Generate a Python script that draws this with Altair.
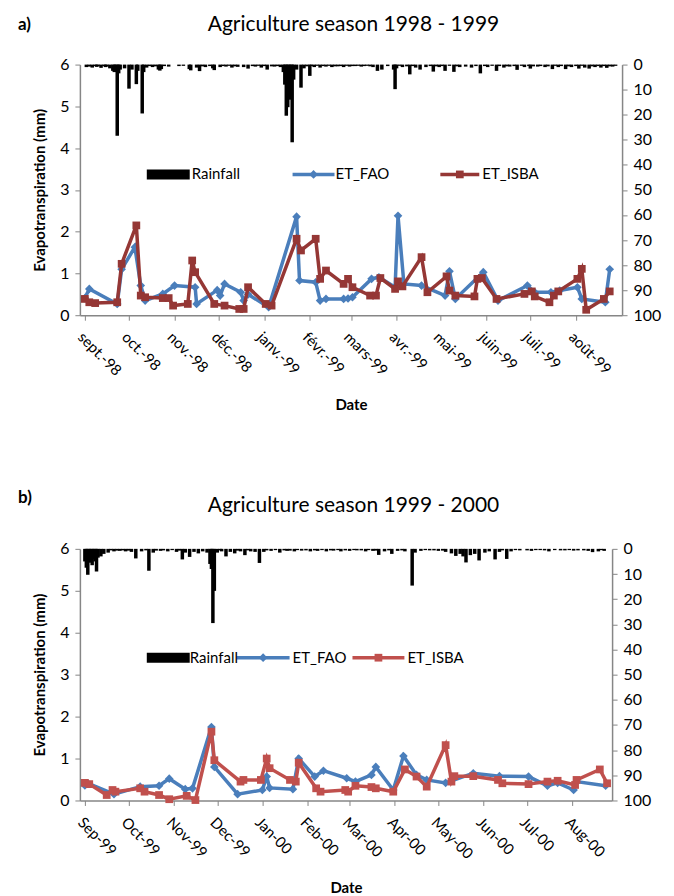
import json
import altair as alt
import pandas as pd

FONT = "Lato"
BLUE = "#4A7EBB"
RED_A = "#953735"
RED_B = "#C0504D"
GREY = "#868686"

series_names = ["Rainfall", "ET_FAO", "ET_ISBA"]

# ---------------- a) Agriculture season 1998 - 1999 ----------------
a_fao_dates = ["1998/09/01", "1998/09/04", "1998/09/23", "1998/09/26", "1998/10/05", "1998/10/09",
               "1998/10/12", "1998/10/24", "1998/11/01", "1998/11/15", "1998/11/16", "1998/11/30",
               "1998/12/02", "1998/12/05", "1998/12/16", "1998/12/18", "1998/12/21", "1999/01/04",
               "1999/01/23", "1999/01/25", "1999/02/05", "1999/02/08", "1999/02/12", "1999/02/24",
               "1999/02/27", "1999/03/02", "1999/03/15", "1999/03/20", "1999/03/31", "1999/04/02",
               "1999/04/06", "1999/04/18", "1999/05/04", "1999/05/07", "1999/05/11", "1999/05/30",
               "1999/06/09", "1999/06/29", "1999/07/04", "1999/07/15", "1999/07/21", "1999/08/02",
               "1999/08/05", "1999/08/21", "1999/08/24"]
a_fao_vals = [0.41, 0.63, 0.27, 1.10, 1.63, 0.71,
              0.35, 0.51, 0.71, 0.67, 0.27, 0.60,
              0.47, 0.75, 0.55, 0.35, 0.50, 0.19,
              2.36, 0.83, 0.79, 0.35, 0.39, 0.39,
              0.40, 0.43, 0.87, 0.91, 0.67, 2.38,
              0.75, 0.71, 0.47, 1.05, 0.39, 1.03,
              0.35, 0.71, 0.55, 0.55, 0.59, 0.67,
              0.39, 0.31, 1.10]

a_isba_dates = ["1998/09/01", "1998/09/04", "1998/09/08", "1998/09/23", "1998/09/26", "1998/10/06",
                "1998/10/09", "1998/10/12", "1998/10/24", "1998/10/28", "1998/10/31", "1998/11/10",
                "1998/11/13", "1998/11/15", "1998/11/28", "1998/12/05", "1998/12/15", "1998/12/18",
                "1998/12/21", "1999/01/02", "1999/01/06", "1999/01/23", "1999/01/26", "1999/02/05",
                "1999/02/08", "1999/02/12", "1999/02/24", "1999/02/27", "1999/03/02", "1999/03/14",
                "1999/03/18", "1999/03/21", "1999/03/31", "1999/04/02", "1999/04/05", "1999/04/18",
                "1999/04/22", "1999/05/05", "1999/05/07", "1999/05/11", "1999/05/24", "1999/05/26",
                "1999/05/29", "1999/06/08", "1999/06/27", "1999/07/02", "1999/07/04", "1999/07/14",
                "1999/07/17", "1999/07/20", "1999/08/02", "1999/08/05", "1999/08/08", "1999/08/20",
                "1999/08/24"]
a_isba_vals = [0.39, 0.31, 0.29, 0.31, 1.23, 2.15,
               0.47, 0.43, 0.41, 0.41, 0.23, 0.27,
               1.31, 1.03, 0.27, 0.23, 0.15, 0.15,
               0.67, 0.27, 0.23, 1.83, 1.55, 1.83,
               0.87, 1.07, 0.75, 0.87, 0.67, 0.47,
               0.47, 0.89, 0.63, 0.81, 0.69, 1.39,
               0.55, 0.93, 0.59, 0.47, 0.45, 0.87,
               0.89, 0.39, 0.51, 0.57, 0.45, 0.31,
               0.47, 0.57, 0.87, 1.11, 0.13, 0.39,
               0.57]

a_rain_dates = ["1998/09/02", "1998/09/04", "1998/09/06", "1998/09/09", "1998/09/12", "1998/09/15",
                "1998/09/18", "1998/09/20", "1998/09/21", "1998/09/22", "1998/09/23", "1998/09/24",
                "1998/09/25", "1998/09/28", "1998/10/01", "1998/10/03", "1998/10/06", "1998/10/07",
                "1998/10/10", "1998/10/11", "1998/10/13", "1998/10/17", "1998/10/21", "1998/10/22",
                "1998/10/23", "1998/10/28", "1998/11/04", "1998/11/11", "1998/11/12", "1998/11/16",
                "1998/11/18", "1998/11/22", "1998/11/27", "1998/11/28", "1998/12/02", "1998/12/06",
                "1998/12/10", "1998/12/14", "1998/12/18", "1998/12/21", "1998/12/26", "1998/12/30",
                "1999/01/03", "1999/01/08", "1999/01/12", "1999/01/14", "1999/01/15", "1999/01/16",
                "1999/01/17", "1999/01/18", "1999/01/19", "1999/01/20", "1999/01/21", "1999/01/23",
                "1999/01/26", "1999/01/28", "1999/02/01", "1999/02/04", "1999/02/08", "1999/02/12",
                "1999/02/16", "1999/02/20", "1999/02/24", "1999/02/28", "1999/03/04", "1999/03/08",
                "1999/03/12", "1999/03/16", "1999/03/19", "1999/03/22", "1999/03/30", "1999/03/31",
                "1999/04/01", "1999/04/05", "1999/04/10", "1999/04/14", "1999/04/17", "1999/04/21",
                "1999/04/26", "1999/04/30", "1999/05/04", "1999/05/10", "1999/05/14", "1999/05/18",
                "1999/05/22", "1999/05/28", "1999/06/02", "1999/06/08", "1999/06/13", "1999/06/17",
                "1999/06/22", "1999/06/27", "1999/07/01", "1999/07/06", "1999/07/11", "1999/07/16",
                "1999/07/20", "1999/07/25", "1999/07/29", "1999/08/03", "1999/08/07", "1999/08/10",
                "1999/08/14", "1999/08/18", "1999/08/22", "1999/08/26",
                "1998/09/08", "1998/09/10", "1998/09/14", "1998/09/16", "1998/10/15", "1998/10/19",
                "1998/10/25", "1998/11/07", "1998/11/20", "1998/11/25", "1998/12/04", "1998/12/08",
                "1998/12/12", "1998/12/24", "1998/12/28", "1999/01/01", "1999/01/06", "1999/01/10",
                "1999/01/30", "1999/02/02", "1999/02/06", "1999/02/10", "1999/02/14", "1999/02/18",
                "1999/02/22", "1999/02/26", "1999/03/02", "1999/03/06", "1999/03/10", "1999/03/14",
                "1999/03/26", "1999/04/03", "1999/04/08", "1999/04/12", "1999/04/24", "1999/04/28",
                "1999/05/02", "1999/05/07", "1999/05/12", "1999/05/25", "1999/05/31", "1999/06/05",
                "1999/06/10", "1999/06/15", "1999/06/20", "1999/06/25", "1999/06/30", "1999/07/03",
                "1999/07/08", "1999/07/13", "1999/07/18", "1999/07/22", "1999/07/27", "1999/08/01",
                "1999/08/05", "1999/08/12", "1999/08/16", "1999/08/20", "1999/08/24", "1999/08/28"]
a_rain_mm = [1.0, 0.8, 1.2, 0.9, 1.3, 1.0,
             1.5, 2.5, 3.0, 2.8, 28.4, 3.5,
             2.0, 1.5, 9.6, 2.0, 7.8, 2.5,
             19.5, 3.0, 1.2, 1.0, 2.0, 2.4,
             1.8, 0.8, 0.6, 1.8, 2.3, 1.2,
             2.6, 1.0, 1.5, 2.2, 1.0, 0.8,
             1.2, 0.9, 1.0, 1.6, 0.8, 1.2,
             2.0, 0.8, 1.0, 3.0, 8.0, 20.4,
             17.0, 12.0, 14.0, 31.0, 6.0, 2.0,
             9.2, 1.5, 4.5, 1.0, 1.2, 0.8,
             1.0, 0.7, 1.0, 0.8, 0.6, 0.8,
             0.5, 1.0, 2.5, 2.0, 2.0, 9.8,
             1.5, 1.0, 3.9, 1.2, 2.0, 1.0,
             2.8, 1.0, 2.5, 2.9, 1.0, 0.8,
             1.2, 3.5, 1.0, 2.5, 1.2, 0.8,
             2.1, 1.0, 1.6, 0.8, 1.0, 1.8,
             1.0, 1.8, 1.0, 1.6, 1.2, 1.6,
             1.0, 1.2, 1.3, 0.8,
             0.6, 0.7, 0.6, 0.8, 0.6, 0.7,
             0.6, 0.5, 0.7, 0.6, 0.6, 0.5,
             0.7, 0.6, 0.5, 0.6, 0.7, 0.6,
             0.7, 0.6, 0.5, 0.6, 0.5, 0.7,
             0.6, 0.5, 0.6, 0.5, 0.6, 0.7,
             0.6, 0.5, 0.7, 0.6, 0.6, 0.7,
             0.6, 0.5, 0.7, 0.6, 0.6, 0.5,
             0.6, 0.7, 0.6, 0.5, 0.6, 0.7,
             0.6, 0.7, 0.5, 0.6, 0.7, 0.6,
             0.5, 0.7, 0.6, 0.6, 0.7, 0.5]

a_month_labels = ["sept.-98", "oct.-98", "nov.-98", "déc.-98", "janv.-99", "févr.-99",
                  "mars-99", "avr.-99", "mai-99", "juin-99", "juil.-99", "août-99"]

# ---------------- b) Agriculture season 1999 - 2000 ----------------
b_fao_dates = ["1999/09/01", "1999/09/03", "1999/09/21", "1999/10/09", "1999/10/22", "1999/10/29",
               "1999/11/09", "1999/11/14", "1999/11/27", "1999/11/29", "1999/12/15", "2000/01/01",
               "2000/01/04", "2000/01/06", "2000/01/22", "2000/01/26", "2000/02/06", "2000/02/12",
               "2000/02/28", "2000/03/05", "2000/03/16", "2000/03/19", "2000/03/31", "2000/04/07",
               "2000/04/16", "2000/04/23", "2000/05/06", "2000/05/25", "2000/06/12", "2000/07/02",
               "2000/07/15", "2000/07/22", "2000/08/02", "2000/08/04", "2000/08/24"]
b_fao_vals = [0.36, 0.41, 0.15, 0.33, 0.35, 0.52,
              0.27, 0.29, 1.75, 0.80, 0.15, 0.25,
              0.57, 0.30, 0.27, 1.00, 0.57, 0.71,
              0.53, 0.45, 0.61, 0.80, 0.25, 1.06,
              0.61, 0.49, 0.42, 0.65, 0.58, 0.57,
              0.35, 0.42, 0.25, 0.45, 0.35]

b_isba_dates = ["1999/09/01", "1999/09/04", "1999/09/16", "1999/09/20", "1999/09/22", "1999/10/09",
                "1999/10/12", "1999/10/22", "1999/10/29", "1999/11/10", "1999/11/16", "1999/11/27",
                "1999/11/29", "1999/12/17", "1999/12/19", "1999/12/31", "2000/01/04", "2000/01/06",
                "2000/01/20", "2000/01/24", "2000/01/26", "2000/02/07", "2000/02/10", "2000/02/27",
                "2000/02/29", "2000/03/05", "2000/03/16", "2000/03/19", "2000/03/31", "2000/04/08",
                "2000/04/16", "2000/04/23", "2000/05/06", "2000/05/10", "2000/05/12", "2000/05/25",
                "2000/06/11", "2000/06/14", "2000/07/02", "2000/07/15", "2000/07/22", "2000/08/03",
                "2000/08/04", "2000/08/20", "2000/08/25"]
b_isba_vals = [0.42, 0.39, 0.13, 0.25, 0.21, 0.29,
               0.21, 0.13, 0.03, 0.11, 0.01, 1.64,
               0.96, 0.45, 0.49, 0.49, 1.00, 0.77,
               0.49, 0.45, 0.90, 0.29, 0.21, 0.25,
               0.21, 0.35, 0.32, 0.29, 0.21, 0.74,
               0.57, 0.33, 1.32, 0.45, 0.58, 0.58,
               0.49, 0.41, 0.39, 0.45, 0.47, 0.37,
               0.49, 0.74, 0.41]

b_rain_dates = ["1999/09/01", "1999/09/02", "1999/09/03", "1999/09/04", "1999/09/05", "1999/09/06",
                "1999/09/07", "1999/09/08", "1999/09/09", "1999/09/10", "1999/09/12", "1999/09/14",
                "1999/09/17", "1999/09/21", "1999/09/25", "1999/09/29", "1999/10/03", "1999/10/06",
                "1999/10/10", "1999/10/15", "1999/10/18", "1999/10/23", "1999/10/28", "1999/11/03",
                "1999/11/07", "1999/11/09", "1999/11/12", "1999/11/15", "1999/11/18", "1999/11/21",
                "1999/11/24", "1999/11/26", "1999/11/27", "1999/11/28", "1999/11/29", "1999/12/01",
                "1999/12/04", "1999/12/07", "1999/12/10", "1999/12/13", "1999/12/17", "1999/12/20",
                "1999/12/24", "1999/12/27", "1999/12/30", "2000/01/02", "2000/01/07", "2000/01/13",
                "2000/01/18", "2000/01/23", "2000/01/28", "2000/02/03", "2000/02/08", "2000/02/14",
                "2000/02/19", "2000/02/24", "2000/03/01", "2000/03/06", "2000/03/12", "2000/03/17",
                "2000/03/21", "2000/03/25", "2000/03/30", "2000/04/03", "2000/04/08", "2000/04/13",
                "2000/04/15", "2000/04/19", "2000/04/25", "2000/05/01", "2000/05/06", "2000/05/10",
                "2000/05/13", "2000/05/16", "2000/05/18", "2000/05/20", "2000/05/23", "2000/05/26",
                "2000/05/29", "2000/06/02", "2000/06/05", "2000/06/09", "2000/06/12", "2000/06/17",
                "2000/06/20", "2000/06/26", "2000/07/04", "2000/07/10", "2000/07/16", "2000/07/24",
                "2000/07/30", "2000/08/05", "2000/08/12", "2000/08/15", "2000/08/19", "2000/08/23",
                "1999/09/19", "1999/09/23", "1999/09/27", "1999/10/01", "1999/10/13", "1999/10/20",
                "1999/10/25", "1999/10/31", "1999/11/05", "1999/12/03", "1999/12/15", "1999/12/22",
                "2000/01/04", "2000/01/10", "2000/01/16", "2000/01/20", "2000/01/25", "2000/01/31",
                "2000/02/06", "2000/02/11", "2000/02/17", "2000/02/22", "2000/02/27", "2000/03/04",
                "2000/03/09", "2000/03/14", "2000/03/19", "2000/03/28", "2000/04/06", "2000/04/22",
                "2000/04/28", "2000/05/04", "2000/06/14", "2000/06/23", "2000/07/01", "2000/07/07",
                "2000/07/13", "2000/07/20", "2000/07/27", "2000/08/02", "2000/08/09", "2000/08/21"]
b_rain_mm = [5.0, 7.5, 10.3, 5.5, 3.0, 6.5,
             4.0, 5.0, 9.0, 3.5, 3.0, 2.0,
             1.5, 1.0, 0.8, 1.0, 1.2, 3.8,
             1.0, 8.7, 1.5, 0.8, 1.0, 1.2,
             4.2, 1.5, 3.2, 1.2, 1.8, 1.0,
             1.5, 6.0, 8.0, 29.5, 16.7, 1.5,
             1.0, 3.0, 1.2, 1.8, 1.0, 2.5,
             1.0, 1.2, 5.6, 1.2, 0.8, 1.5,
             0.8, 1.0, 0.7, 1.0, 0.8, 1.0,
             0.7, 1.0, 0.8, 0.6, 1.0, 0.8,
             2.4, 1.0, 2.0, 0.8, 1.0, 14.6,
             1.5, 0.8, 0.6, 0.8, 1.2, 1.8,
             2.8, 2.0, 3.0, 5.4, 2.5, 2.0,
             4.6, 1.5, 1.0, 4.2, 1.2, 4.0,
             1.0, 0.6, 0.8, 0.5, 1.0, 0.6,
             0.5, 0.6, 0.8, 1.3, 1.0, 0.8,
             0.6, 0.7, 0.6, 0.7, 0.6, 0.7,
             0.6, 0.5, 0.7, 0.6, 0.7, 0.6,
             0.6, 0.5, 0.6, 0.7, 0.5, 0.6,
             0.6, 0.5, 0.6, 0.5, 0.6, 0.5,
             0.6, 0.5, 0.7, 0.6, 0.6, 0.5,
             0.6, 0.7, 0.6, 0.5, 0.6, 0.5,
             0.6, 0.5, 0.6, 0.7, 0.6, 0.5]

b_month_labels = ["Sep-99", "Oct-99", "Nov-99", "Dec-99", "Jan-00", "Feb-00",
                  "Mar-00", "Apr-00", "May-00", "Jun-00", "Jul-00", "Aug-00"]


def make_panel(tag, title, fao_d, fao_v, isba_d, isba_v, rain_d, rain_v, month_labels,
               start_year, end_day, isba_color, width, height, leg, tag_y, title_y):
    fao = pd.DataFrame({"date": fao_d, "et": fao_v})
    isba = pd.DataFrame({"date": isba_d, "et": isba_v})
    rain = pd.DataFrame({"date": rain_d, "mm": rain_v})

    ticks = []
    for i in range(12):
        m = 9 + i
        ticks.append(alt.DateTime(year=start_year + (m - 1) // 12, month=(m - 1) % 12 + 1, date=1))
    label_expr = json.dumps(month_labels, ensure_ascii=False) + "[(month(datum.value)+4)%12]"

    xenc = alt.X(
        "date:T", title="Date",
        scale=alt.Scale(domain=[alt.DateTime(year=start_year, month=9, date=1),
                                alt.DateTime(year=start_year + 1, month=8, date=end_day)]),
        axis=alt.Axis(values=ticks, labelExpr=label_expr, labelAngle=45, labelAlign="left",
                      labelBaseline="top", labelFontSize=15, labelPadding=9, tickSize=5,
                      titleFontSize=15, titleFontWeight="bold", titlePadding=19,
                      labelOverlap=False),
    )
    yenc = alt.Y(
        "et:Q", title="Evapotranspiration (mm)", scale=alt.Scale(domain=[0, 6]),
        axis=alt.Axis(values=[0, 1, 2, 3, 4, 5, 6], labelFontSize=16, tickSize=5, labelPadding=6,
                      titleFontSize=15, titleFontWeight="bold", titlePadding=12),
    )
    rain_chart = alt.Chart(rain).mark_bar(color="black", size=3.5).encode(
        x=xenc,
        y=alt.Y("mm:Q", title=None, scale=alt.Scale(domain=[0, 100], reverse=True),
                axis=alt.Axis(orient="right", values=list(range(0, 101, 10)), labelFontSize=16,
                              tickSize=5, labelPadding=6)),
    )
    fao_line = alt.Chart(fao).mark_line(color=BLUE, strokeWidth=3.5).encode(x=xenc, y=yenc)
    fao_pts = alt.Chart(fao).mark_point(shape="diamond", filled=True, size=75, color=BLUE,
                                        opacity=1).encode(x=xenc, y=yenc)
    isba_line = alt.Chart(isba).mark_line(color=isba_color, strokeWidth=3.5).encode(x=xenc, y=yenc)
    isba_pts = alt.Chart(isba).mark_point(shape="square", filled=True, size=60, color=isba_color,
                                          opacity=1).encode(x=xenc, y=yenc)

    # legend (drawn inside the plot, as in the original)
    ly = leg["y"]
    lab = lambda name: pd.DataFrame({"label": [name]})
    leg_rain = alt.Chart(lab(series_names[0])).mark_rect(color="black").encode(
        x=alt.value(leg["r0"]), x2=alt.value(leg["r1"]), y=alt.value(ly - 5), y2=alt.value(ly + 5))
    leg_fao_l = alt.Chart(lab(series_names[1])).mark_rule(color=BLUE, strokeWidth=3.5).encode(
        x=alt.value(leg["f0"]), x2=alt.value(leg["f1"]), y=alt.value(ly))
    leg_fao_p = alt.Chart(lab(series_names[1])).mark_point(
        shape="diamond", filled=True, size=75, color=BLUE, opacity=1).encode(
        x=alt.value((leg["f0"] + leg["f1"]) / 2), y=alt.value(ly))
    leg_isba_l = alt.Chart(lab(series_names[2])).mark_rule(color=isba_color, strokeWidth=3.5).encode(
        x=alt.value(leg["i0"]), x2=alt.value(leg["i1"]), y=alt.value(ly))
    leg_isba_p = alt.Chart(lab(series_names[2])).mark_point(
        shape="square", filled=True, size=60, color=isba_color, opacity=1).encode(
        x=alt.value((leg["i0"] + leg["i1"]) / 2), y=alt.value(ly))
    texts = []
    for name, tx in zip(series_names, [leg["rt"], leg["ft"], leg["it"]]):
        texts.append(alt.Chart(lab(name)).mark_text(
            align="left", baseline="middle", fontSize=15, font=FONT, color="black").encode(
            x=alt.value(tx), y=alt.value(ly), text="label:N"))
    tag_chart = alt.Chart(pd.DataFrame({"t": [tag]})).mark_text(
        align="left", baseline="middle", fontSize=17, fontWeight="bold", font=FONT).encode(
        x=alt.value(-62), y=alt.value(tag_y), text="t:N")
    title_chart = alt.Chart(pd.DataFrame({"t": [title]})).mark_text(
        align="center", baseline="middle", fontSize=21, font=FONT, color="black").encode(
        x=alt.value(274), y=alt.value(title_y), text="t:N")

    et_layer = alt.layer(fao_line, fao_pts, isba_line, isba_pts, leg_rain, leg_fao_l, leg_fao_p,
                         leg_isba_l, leg_isba_p, *texts, tag_chart, title_chart)
    return alt.layer(rain_chart, et_layer).resolve_scale(y="independent").properties(
        width=width, height=height)


top = make_panel("a)", "Agriculture season 1998 - 1999", a_fao_dates, a_fao_vals, a_isba_dates,
                 a_isba_vals, a_rain_dates, a_rain_mm, a_month_labels, 1998, 29, RED_A, 543, 251,
                 {"y": 110, "r0": 67, "r1": 110, "rt": 112, "f0": 213, "f1": 255, "ft": 256,
                  "i0": 361, "i1": 400, "it": 403}, -40, -40)
bottom = make_panel("b)", "Agriculture season 1999 - 2000", b_fao_dates, b_fao_vals, b_isba_dates,
                    b_isba_vals, b_rain_dates, b_rain_mm, b_month_labels, 1999, 25, RED_B, 533, 252,
                    {"y": 109, "r0": 67, "r1": 110, "rt": 110, "f0": 157, "f1": 210, "ft": 213,
                     "i0": 273, "i1": 325, "it": 328}, -51, -43)

chart = alt.vconcat(top, bottom, spacing=76).properties(
    padding={"left": 10, "top": 5, "right": 5, "bottom": 5}
).configure_view(stroke=None).configure_axis(
    labelFont=FONT, titleFont=FONT, grid=False, domainColor=GREY, tickColor=GREY,
    labelColor="black", titleColor="black", domainWidth=1.5
)

chart.save("out.html", embed_options={"renderer": "svg", "actions": False})
